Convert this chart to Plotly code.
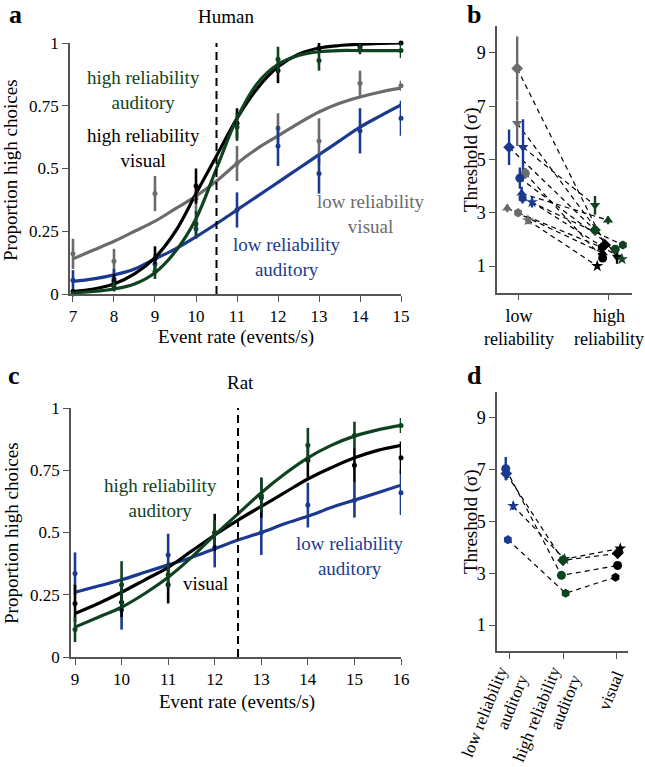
import plotly.graph_objects as go

W, H = 645, 767
FONT = "Liberation Serif"
GREEN = "#0f4220"
BLUE = "#1b3a8f"
GRAY = "#6b6b6b"
BLACK = "#000000"
AXC = "#555555"

# ---------------- Panel a: Human ----------------
human_rates = [7, 8, 9, 10, 11, 12, 13, 14, 15]
human_hi_aud = [0.00, 0.03, 0.09, 0.28, 0.665, 0.935, 0.93, 0.975, 0.97]
human_hi_aud_err = [0.01, 0.02, 0.03, 0.05, 0.055, 0.05, 0.04, 0.02, 0.03]
human_hi_vis = [0.01, 0.05, 0.14, 0.43, 0.68, 0.89, 0.98, 0.985, 1.0]
human_hi_vis_err = [0.01, 0.03, 0.05, 0.07, 0.06, 0.05, 0.02, 0.01, 0.01]
human_lo_vis = [0.16, 0.13, 0.40, 0.38, 0.52, 0.66, 0.61, 0.84, 0.83]
human_lo_vis_err = [0.06, 0.05, 0.07, 0.06, 0.07, 0.06, 0.09, 0.05, 0.02]
human_lo_aud = [0.055, 0.06, 0.12, 0.26, 0.335, 0.59, 0.48, 0.65, 0.70]
human_lo_aud_err = [0.04, 0.04, 0.04, 0.04, 0.07, 0.08, 0.08, 0.09, 0.07]

human_fit_x = [7, 7.5, 8, 8.5, 9, 9.5, 10, 10.5, 11, 11.5, 12, 12.5, 13, 13.5, 14, 14.5, 15]
human_fit_hi_vis = [0.01, 0.02, 0.04, 0.08, 0.145, 0.25, 0.40, 0.55, 0.70, 0.82, 0.905, 0.955, 0.98, 0.99, 0.995, 0.998, 1.0]
human_fit_hi_aud = [0.005, 0.01, 0.02, 0.04, 0.085, 0.17, 0.30, 0.50, 0.70, 0.84, 0.915, 0.95, 0.965, 0.97, 0.97, 0.97, 0.97]
human_fit_lo_vis = [0.14, 0.175, 0.21, 0.25, 0.29, 0.34, 0.39, 0.45, 0.52, 0.58, 0.63, 0.68, 0.725, 0.76, 0.785, 0.805, 0.82]
human_fit_lo_aud = [0.05, 0.06, 0.076, 0.10, 0.14, 0.18, 0.228, 0.28, 0.335, 0.39, 0.445, 0.50, 0.555, 0.61, 0.665, 0.71, 0.753]
human_boundary = 10.5

# ---------------- Panel c: Rat ----------------
rat_rates = [9, 10, 11, 12, 13, 14, 15, 16]
rat_hi_aud = [0.11, 0.29, 0.33, 0.50, 0.65, 0.85, 0.89, 0.93]
rat_hi_aud_err = [0.05, 0.095, 0.05, 0.05, 0.07, 0.07, 0.055, 0.03]
rat_vis = [0.215, 0.22, 0.29, 0.50, 0.64, 0.79, 0.77, 0.80]
rat_vis_err = [0.075, 0.06, 0.075, 0.075, 0.08, 0.07, 0.07, 0.065]
rat_lo_aud = [0.335, 0.19, 0.41, 0.44, 0.50, 0.61, 0.63, 0.66]
rat_lo_aud_err = [0.085, 0.08, 0.085, 0.08, 0.09, 0.09, 0.07, 0.09]

rat_fit_x = [9, 9.5, 10, 10.5, 11, 11.5, 12, 12.5, 13, 13.5, 14, 14.5, 15, 15.5, 16]
rat_fit_hi_aud = [0.12, 0.16, 0.20, 0.255, 0.32, 0.40, 0.49, 0.575, 0.66, 0.735, 0.80, 0.85, 0.887, 0.912, 0.93]
rat_fit_vis = [0.175, 0.215, 0.26, 0.31, 0.36, 0.425, 0.49, 0.55, 0.605, 0.66, 0.715, 0.76, 0.80, 0.83, 0.85]
rat_fit_lo_aud = [0.26, 0.285, 0.31, 0.34, 0.37, 0.40, 0.435, 0.47, 0.50, 0.535, 0.565, 0.60, 0.63, 0.66, 0.69]
rat_boundary = 12.5

# ---------------- Panel b: human thresholds ----------------
b_categories = ["low<br>reliability", "high<br>reliability"]
b_aud_lo = [5.46, 5.46, 4.30, 3.73, 3.55, 3.40]
b_aud_lo_err = [0.67, 1.05, 0.40, 0.25, 0.20, 0.20]
b_aud_hi = [2.35, 3.28, 1.63, 2.72, 1.79, 1.26]
b_aud_hi_err = [0.15, 0.35, 0.15, 0.15, 0.15, 0.10]
b_aud_lo_jit = [-0.11, 0.045, 0.01, 0.03, 0.04, 0.145]
b_aud_hi_jit = [-0.155, -0.155, 0.07, -0.01, 0.155, 0.145]
b_vis_lo = [8.42, 6.36, 4.48, 3.17, 3.00, 2.72]
b_vis_lo_err = [1.20, 0.85, 0.20, 0.15, 0.15, 0.15]
b_vis_hi = [1.80, 1.34, 1.30, 1.49, 1.70, 1.00]
b_vis_hi_err = [0.10, 0.25, 0.10, 0.10, 0.15, 0.05]
b_vis_lo_jit = [-0.02, -0.02, 0.07, -0.13, -0.01, 0.10]
b_vis_hi_jit = [-0.045, 0.09, -0.07, -0.07, -0.08, -0.13]
b_symbols = ["diamond", "triangle-down", "circle", "triangle-up", "hexagon", "star"]

# ---------------- Panel d: rat thresholds ----------------
d_categories = ["low reliability<br>auditory", "high reliability<br>auditory", "visual"]
d_lo_aud = [7.04, 6.85, 5.60, 4.30]
d_lo_aud_err = [0.45, 0.25, 0.15, 0.15]
d_hi_aud = [2.92, 3.50, 3.55, 2.23]
d_vis = [3.30, 3.77, 3.96, 2.85]
d_jit = [[-0.08, -0.03, 0.03], [-0.07, 0.0, 0.03], [0.06, 0.03, 0.08], [-0.04, 0.05, -0.01]]
d_symbols = ["circle", "diamond", "star", "hexagon"]


def pxx(x):
    return x / W


def pxy(y):
    return 1 - y / H


fig = go.Figure()


def add_curve(x, y, color, xa, ya):
    fig.add_trace(go.Scatter(x=x, y=y, mode="lines", line=dict(color=color, width=3.2, shape="spline"),
                             xaxis=xa, yaxis=ya, showlegend=False, hoverinfo="skip", cliponaxis=False))


def add_points(x, y, err, color, xa, ya):
    fig.add_trace(go.Scatter(x=x, y=y, mode="markers",
                             marker=dict(color=color, size=5),
                             error_y=dict(type="data", array=err, color=color, thickness=2.6, width=0),
                             xaxis=xa, yaxis=ya, showlegend=False, cliponaxis=False))


# Panel a
for fx, col in [(human_fit_lo_vis, GRAY), (human_fit_lo_aud, BLUE), (human_fit_hi_vis, BLACK), (human_fit_hi_aud, GREEN)]:
    add_curve(human_fit_x, fx, col, "x", "y")
for vals, err, col in [(human_lo_vis, human_lo_vis_err, GRAY), (human_lo_aud, human_lo_aud_err, BLUE),
                       (human_hi_vis, human_hi_vis_err, BLACK), (human_hi_aud, human_hi_aud_err, GREEN)]:
    add_points(human_rates, vals, err, col, "x", "y")

# Panel c
for fx, col in [(rat_fit_lo_aud, BLUE), (rat_fit_vis, BLACK), (rat_fit_hi_aud, GREEN)]:
    add_curve(rat_fit_x, fx, col, "x3", "y3")
for vals, err, col in [(rat_lo_aud, rat_lo_aud_err, BLUE), (rat_vis, rat_vis_err, BLACK),
                       (rat_hi_aud, rat_hi_aud_err, GREEN)]:
    add_points(rat_rates, vals, err, col, "x3", "y3")

# Panel b
DASH = "5px,4px"
for i in range(len(b_aud_lo)):
    fig.add_trace(go.Scatter(x=[0 + b_aud_lo_jit[i], 1 + b_aud_hi_jit[i]], y=[b_aud_lo[i], b_aud_hi[i]],
                             mode="lines", line=dict(color="black", width=1.2, dash=DASH),
                             xaxis="x2", yaxis="y2", showlegend=False, hoverinfo="skip"))
    fig.add_trace(go.Scatter(x=[0 + b_vis_lo_jit[i], 1 + b_vis_hi_jit[i]], y=[b_vis_lo[i], b_vis_hi[i]],
                             mode="lines", line=dict(color="black", width=1.2, dash=DASH),
                             xaxis="x2", yaxis="y2", showlegend=False, hoverinfo="skip"))
for i in range(len(b_aud_lo)):
    for xv, yv, ev, col in [(0 + b_vis_lo_jit[i], b_vis_lo[i], b_vis_lo_err[i], GRAY),
                            (0 + b_aud_lo_jit[i], b_aud_lo[i], b_aud_lo_err[i], BLUE),
                            (1 + b_aud_hi_jit[i], b_aud_hi[i], b_aud_hi_err[i], GREEN),
                            (1 + b_vis_hi_jit[i], b_vis_hi[i], b_vis_hi_err[i], BLACK)]:
        fig.add_trace(go.Scatter(x=[xv], y=[yv], mode="markers",
                                 marker=dict(color=col, size=9, symbol=b_symbols[i]),
                                 error_y=dict(type="data", array=[ev], color=col, thickness=2.4, width=0),
                                 xaxis="x2", yaxis="y2", showlegend=False, cliponaxis=False))

# Panel d
for i in range(len(d_lo_aud)):
    xs = [0 + d_jit[i][0], 1 + d_jit[i][1], 2 + d_jit[i][2]]
    ys = [d_lo_aud[i], d_hi_aud[i], d_vis[i]]
    fig.add_trace(go.Scatter(x=xs, y=ys, mode="lines", line=dict(color="black", width=1.2, dash=DASH),
                             xaxis="x4", yaxis="y4", showlegend=False, hoverinfo="skip"))
for i in range(len(d_lo_aud)):
    xs = [0 + d_jit[i][0], 1 + d_jit[i][1], 2 + d_jit[i][2]]
    ys = [d_lo_aud[i], d_hi_aud[i], d_vis[i]]
    errs = [d_lo_aud_err[i], 0.1, 0.1]
    for xv, yv, ev, col in zip(xs, ys, errs, [BLUE, GREEN, BLACK]):
        fig.add_trace(go.Scatter(x=[xv], y=[yv], mode="markers",
                                 marker=dict(color=col, size=9, symbol=d_symbols[i]),
                                 error_y=dict(type="data", array=[ev], color=col, thickness=2.4, width=0),
                                 xaxis="x4", yaxis="y4", showlegend=False, cliponaxis=False))


def axis_common(fs):
    return dict(showline=True, linecolor=AXC, linewidth=1.5, ticks="outside", ticklen=6,
                tickcolor=AXC, tickwidth=1.3, showgrid=False, zeroline=False, automargin=False,
                tickfont=dict(family=FONT, size=fs, color="black"))


fig.update_layout(
    template="none",
    width=W, height=H, margin=dict(l=0, r=0, t=0, b=0, autoexpand=False),
    paper_bgcolor="white", plot_bgcolor="white",
    font=dict(family=FONT, size=17, color="black"),
    xaxis=dict(axis_common(17), domain=[pxx(70), pxx(401)], range=[6.927, 15],
               tickvals=human_rates, anchor="y"),
    yaxis=dict(axis_common(17), domain=[pxy(294), pxy(43)], range=[0, 1],
               tickvals=[0, 0.25, 0.5, 0.75, 1], ticktext=["0", "0.25", "0.5", "0.75", "1"], anchor="x"),
    xaxis2=dict(axis_common(18), domain=[pxx(497), pxx(632)], range=[-0.244, 1.256],
                tickvals=[0, 1], ticktext=b_categories, anchor="y2"),
    yaxis2=dict(axis_common(18), domain=[pxy(292.7), pxy(26.3)], range=[0, 10],
                tickvals=[1, 3, 5, 7, 9], anchor="x2"),
    xaxis3=dict(axis_common(17), domain=[pxx(71), pxx(401)], range=[8.914, 16],
                tickvals=rat_rates, anchor="y3"),
    yaxis3=dict(axis_common(17), domain=[pxy(657), pxy(408)], range=[0, 1],
                tickvals=[0, 0.25, 0.5, 0.75, 1], ticktext=["0", "0.25", "0.5", "0.75", "1"], anchor="x3"),
    xaxis4=dict(axis_common(17), domain=[pxx(497), pxx(628)], range=[-0.245, 2.226],
                tickvals=[0, 1, 2], ticktext=d_categories, tickangle=-68, anchor="y4"),
    yaxis4=dict(axis_common(18), domain=[pxy(651), pxy(392)], range=[0, 10],
                tickvals=[1, 3, 5, 7, 9], anchor="x4"),
)

# dashed category boundaries
fig.add_shape(type="line", xref="x", yref="y", x0=human_boundary, x1=human_boundary, y0=0, y1=1,
              line=dict(color="black", width=2, dash="8px,5px"))
fig.add_shape(type="line", xref="x3", yref="y3", x0=rat_boundary, x1=rat_boundary, y0=0, y1=1,
              line=dict(color="black", width=2, dash="8px,5px"))


def ann(text, x, y, color="black", size=19, angle=0, bold=False):
    fig.add_annotation(text=("<b>%s</b>" % text) if bold else text, x=pxx(x), y=pxy(y),
                       xref="paper", yref="paper", showarrow=False, xanchor="center", yanchor="middle",
                       textangle=angle, font=dict(family=FONT, size=size, color=color))


ann("a", 15, 14, size=26, bold=True)
ann("b", 474, 14, size=26, bold=True)
ann("c", 14, 376, size=26, bold=True)
ann("d", 474, 376, size=26, bold=True)
ann("Human", 226, 17)
ann("Rat", 240, 382)
ann("high reliability<br>auditory", 143, 90, GREEN)
ann("high reliability<br>visual", 143, 148, BLACK)
ann("low reliability<br>visual", 371, 214, GRAY)
ann("low reliability<br>auditory", 287, 257, BLUE)
ann("high reliability<br>auditory", 160, 498, GREEN)
ann("visual", 205, 583, BLACK)
ann("low reliability<br>auditory", 350, 556, BLUE)
ann("Proportion high choices", 11, 170, angle=-90)
ann("Proportion high choices", 11, 533, angle=-90)
ann("Event rate (events/s)", 236, 337)
ann("Event rate (events/s)", 237, 702)
ann("Threshold (σ)", 471, 160, angle=-90)
ann("Threshold (σ)", 471, 522, angle=-90)

fig.write_html("out.html", config={"displayModeBar": False},
               post_script="document.body.style.margin='0px';document.body.style.overflow='hidden';")
